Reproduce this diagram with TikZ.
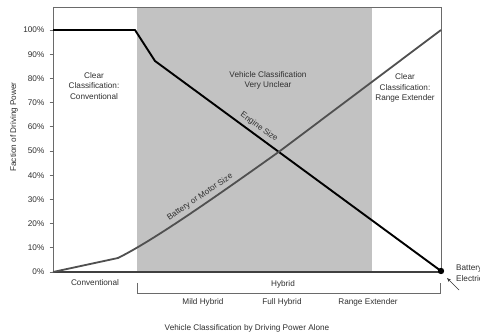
\documentclass[tikz,border=0pt]{standalone}
\usepackage{fontspec}
\setmainfont{Liberation Sans}
\usetikzlibrary{arrows.meta}
\definecolor{txt}{HTML}{303030}
\definecolor{regiongray}{HTML}{C2C2C2}
\definecolor{frame}{HTML}{6A6A6A}
\definecolor{batt}{HTML}{505050}
\begin{document}
\begin{tikzpicture}[x=1pt,y=-1pt,
  lbl/.style={font=\fontsize{8.2}{10.6}\selectfont, text=txt, inner sep=0pt, align=center},
  ticklbl/.style={font=\fontsize{8.2}{10}\selectfont, text=txt, inner sep=0pt, anchor=east},
  engine/.style={line width=1.9pt, black, line join=round},
  battline/.style={line width=1.8pt, batt, line join=round}]
\useasboundingbox (0,0) rectangle (480,334);
\fill[white] (0,0) rectangle (480,334);
% shaded region
\fill[regiongray] (137,7) rectangle (372,271);
% frame
\draw[frame, line width=0.8pt] (53,7) -- (441,7) -- (441,271);
\draw[frame, line width=0.8pt] (53,7) -- (53,272);
\draw[black!75, line width=1.1pt] (53,272) -- (441,272);
% ticks and labels
\foreach \v [count=\i from 0] in {0,10,...,100} {
  \pgfmathsetmacro{\yy}{272-2.42*\v}
  \draw[frame, line width=0.7pt] (49.5,\yy) -- (53,\yy);
  \node[ticklbl] (t\i) at (44.5,\yy) {\v\%};
}
% axis title
\node[lbl, rotate=90] (ytitle) at (14,127) {Faction of Driving Power};
% curves
\coordinate (e0) at (53,30);
\coordinate (e1) at (135,30);
\coordinate (e2) at (155,61);
\coordinate (e3) at (441,271);
\draw[engine] (e0) -- (e1) -- (e2) -- (e3);
\coordinate (b0) at (53,272);
\coordinate (b1) at (118,258);
\coordinate (b5) at (441,30);
\draw[battline] (b0) -- (b1) .. controls (150,242) and (200,208) .. (280,151) -- (b5);
% dot
\fill[black] (e3) circle (3.2);
% region labels
\node[lbl] (conv) at (94,86) {Clear\\Classification:\\Conventional};
\node[lbl] (unclear) at (268,80.5) {Vehicle Classification\\Very Unclear};
\node[lbl] (rext) at (405,88) {Clear\\Classification:\\Range Extender};
\node[lbl, rotate=-36] (eng) at (259,127) {Engine Size};
\node[lbl, rotate=34] (bat) at (200,197) {Battery or Motor Size};
% battery electric
\node[lbl, align=left, anchor=west] (be) at (456,273) {Battery\\Electric};
\draw[-{Stealth[length=4pt,width=3pt]}, black!80, line width=0.7pt] (459,290) -- (447,278);
% x categories
\node[lbl] (convx) at (95,283) {Conventional};
\draw[frame, line width=0.8pt] (137,283) -- (137,293) -- (440,293) -- (440,283);
\node[lbl] (hyb) at (283,284) {Hybrid};
\node[lbl] (mild) at (203,302) {Mild Hybrid};
\node[lbl] (full) at (282,302) {Full Hybrid};
\node[lbl] (range) at (368,302) {Range Extender};
\node[lbl] (xtitle) at (247,328) {Vehicle Classification by Driving Power Alone};
\end{tikzpicture}
\end{document}
